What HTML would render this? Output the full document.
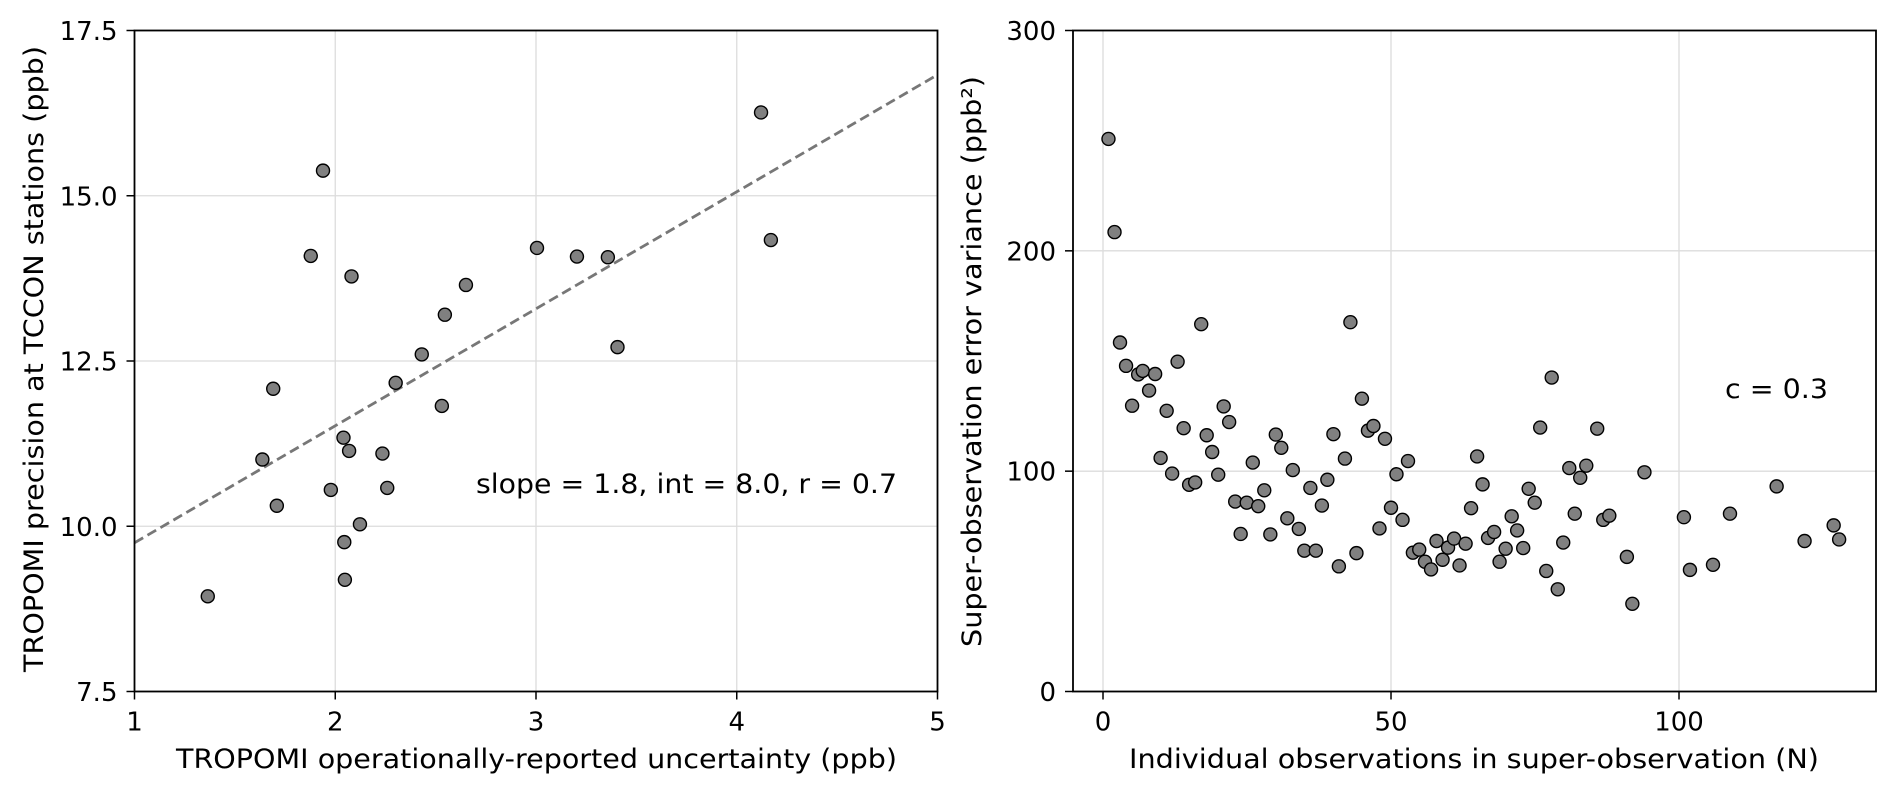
<!DOCTYPE html>
<html><head><meta charset="utf-8"><style>
body{margin:0;background:#fff}
svg text{font-family:"DejaVu Sans","Liberation Sans",sans-serif;fill:#000}
</style></head><body>
<svg id="chart" width="1892" height="794" xmlns="http://www.w3.org/2000/svg"></svg>
<script>
const leftX=[1.365,1.637,1.691,1.709,1.878,1.939,1.978,2.041,2.045,2.048,2.069,2.081,2.123,2.235,2.259,2.301,2.431,2.531,2.546,2.651,3.005,3.204,3.358,3.406,4.121,4.170];
const leftY=[8.94,11.01,12.08,10.31,14.09,15.38,10.55,11.34,9.76,9.19,11.14,13.78,10.03,11.10,10.58,12.17,12.60,11.82,13.20,13.65,14.21,14.08,14.07,12.71,16.26,14.33];
const fitSlope=1.77, fitInt=7.98;
const leftXTicks=[1,2,3,4,5];
const leftYTicks=[7.5,10.0,12.5,15.0,17.5];
const rightN=[0.95,2,2.95,4,5.05,6.1,6.9,8,9.05,10,11.05,12,12.95,14,14.95,16,17.05,18,18.95,20,20.95,21.9,22.95,23.9,24.95,26,26.95,28,29.05,30,30.95,32,32.95,34,34.95,36,36.95,38,38.95,40,40.95,42,42.95,44,44.95,46,46.95,48,48.95,50,50.95,52,52.95,53.8,54.9,55.9,56.95,57.9,58.95,59.9,60.95,61.9,62.95,63.9,64.95,65.9,66.85,67.9,68.85,69.9,70.95,71.9,72.95,73.9,74.95,75.9,76.95,77.9,78.95,79.9,80.95,81.9,82.85,83.9,85.8,86.85,87.9,90.95,91.9,94,100.85,101.9,105.9,108.85,116.95,121.8,126.85,127.8];
const rightV=[250.8,208.5,158.4,147.8,129.7,143.9,145.5,136.6,144.1,106,127.4,98.9,149.7,119.5,93.8,94.9,166.7,116.3,108.7,98.4,129.4,122.3,86.2,71.5,85.7,103.9,84.1,91.3,71.3,116.6,110.6,78.6,100.5,73.8,63.9,92.4,63.9,84.4,96.1,116.8,56.8,105.7,167.6,62.8,132.9,118.4,120.5,74,114.7,83.4,98.6,77.9,104.6,63,64.4,58.9,55.4,68.3,59.8,65.3,69.4,57.2,67.1,83.2,106.7,94,69.7,72.4,58.9,64.8,79.5,73.1,65.1,92,85.7,119.8,54.7,142.5,46.4,67.6,101.4,80.7,97,102.5,119.3,77.9,79.8,61.1,39.8,99.5,79.1,55.2,57.5,80.7,93.1,68.3,75.4,69];
const rightXTicks=[0,50,100];
const rightYTicks=[0,100,200,300];

const svg=document.getElementById('chart');
const NS='http://www.w3.org/2000/svg';
function mk(tag,attrs,parent,txt){const e=document.createElementNS(NS,tag);for(const k in attrs)e.setAttribute(k,attrs[k]);if(txt!==undefined)e.textContent=txt;(parent||svg).appendChild(e);return e;}

function panel(o){
  const g=mk('g',{});
  
  
  const sx=v=>o.x0+(v-o.xmin)/(o.xmax-o.xmin)*(o.x1-o.x0);
  const sy=v=>o.y1-(v-o.ymin)/(o.ymax-o.ymin)*(o.y1-o.y0);
  o.xt.forEach(t=>{const l=mk('line',{x1:sx(t),x2:sx(t),y1:o.y0,y2:o.y1,stroke:'#dcdcdc','stroke-width':1.3},g);
    });
  o.yt.forEach(t=>{const l=mk('line',{x1:o.x0,x2:o.x1,y1:sy(t),y2:sy(t),stroke:'#dcdcdc','stroke-width':1.3},g);
    });
  if(o.fit){const l=mk('line',{x1:sx(o.xmin),y1:sy(o.fit(o.xmin)),x2:sx(o.xmax),y2:sy(o.fit(o.xmax)),stroke:'#777','stroke-width':2.8,'stroke-dasharray':'10,5'},g);
    }
  o.xs.forEach((v,i)=>{const c=mk('circle',{cx:sx(v),cy:sy(o.ys[i]),r:6.5,fill:'#808080',stroke:'#000','stroke-width':1.4},g);
    });
  const fr=mk('rect',{x:o.x0,y:o.y0,width:o.x1-o.x0,height:o.y1-o.y0,fill:'none',stroke:'#000','stroke-width':1.8},g);
  
  o.xt.forEach((t,i)=>{mk('line',{x1:sx(t),x2:sx(t),y1:o.y1,y2:o.y1+8,stroke:'#000','stroke-width':1.5},g);
    const tx=mk('text',{x:sx(t),y:o.y1+39,'text-anchor':'middle','font-size':26},g,o.xl[i]);
    });
  o.yt.forEach((t,i)=>{mk('line',{x1:o.x0-8,x2:o.x0,y1:sy(t),y2:sy(t),stroke:'#000','stroke-width':1.5},g);
    const tx=mk('text',{x:o.x0-17,y:sy(t)+9.5,'text-anchor':'end','font-size':26},g,o.yl[i]);
    });
  const xt=mk('text',{x:o.xtx,y:768,'font-size':27,textLength:o.xtl,lengthAdjust:'spacingAndGlyphs'},g,o.xtitle);
  
  const yt=mk('text',{x:o.ylx,y:o.yty,'font-size':27,textLength:o.ytl,lengthAdjust:'spacingAndGlyphs',transform:`rotate(-90 ${o.ylx} ${o.yty})`},g,o.ytitle);
  
  const an=mk('text',{x:o.ax,y:o.ay,'font-size':27,textLength:o.al,lengthAdjust:'spacingAndGlyphs'},g,o.atext);
  
}
panel({name:'left-panel',x0:134.5,x1:937.5,y0:30.5,y1:691.5,xmin:1,xmax:5,ymin:7.5,ymax:17.5,
  xt:leftXTicks,yt:leftYTicks,xl:leftXTicks.map(String),yl:leftYTicks.map(v=>v.toFixed(1)),
  xs:leftX,ys:leftY,fit:x=>fitSlope*x+fitInt,
  xtitle:'TROPOMI operationally-reported uncertainty (ppb)',xtx:176,xtl:721,
  ytitle:'TROPOMI precision at TCCON stations (ppb)',ylx:43,yty:672,ytl:626,
  ax:476,ay:493,al:421,atext:'slope = 1.8, int = 8.0, r = 0.7'});
panel({name:'right-panel',x0:1073,x1:1876,y0:30.5,y1:691.5,xmin:-5.21,xmax:134.2,ymin:0,ymax:300,
  xt:rightXTicks,yt:rightYTicks,xl:rightXTicks.map(String),yl:rightYTicks.map(String),
  xs:rightN,ys:rightV,fit:null,
  xtitle:'Individual observations in super-observation (N)',xtx:1129,xtl:690,
  ytitle:'Super-observation error variance (ppb²)',ylx:981,yty:647,ytl:571,
  ax:1725,ay:398,al:103,atext:'c = 0.3'});
</script>
</body></html>
